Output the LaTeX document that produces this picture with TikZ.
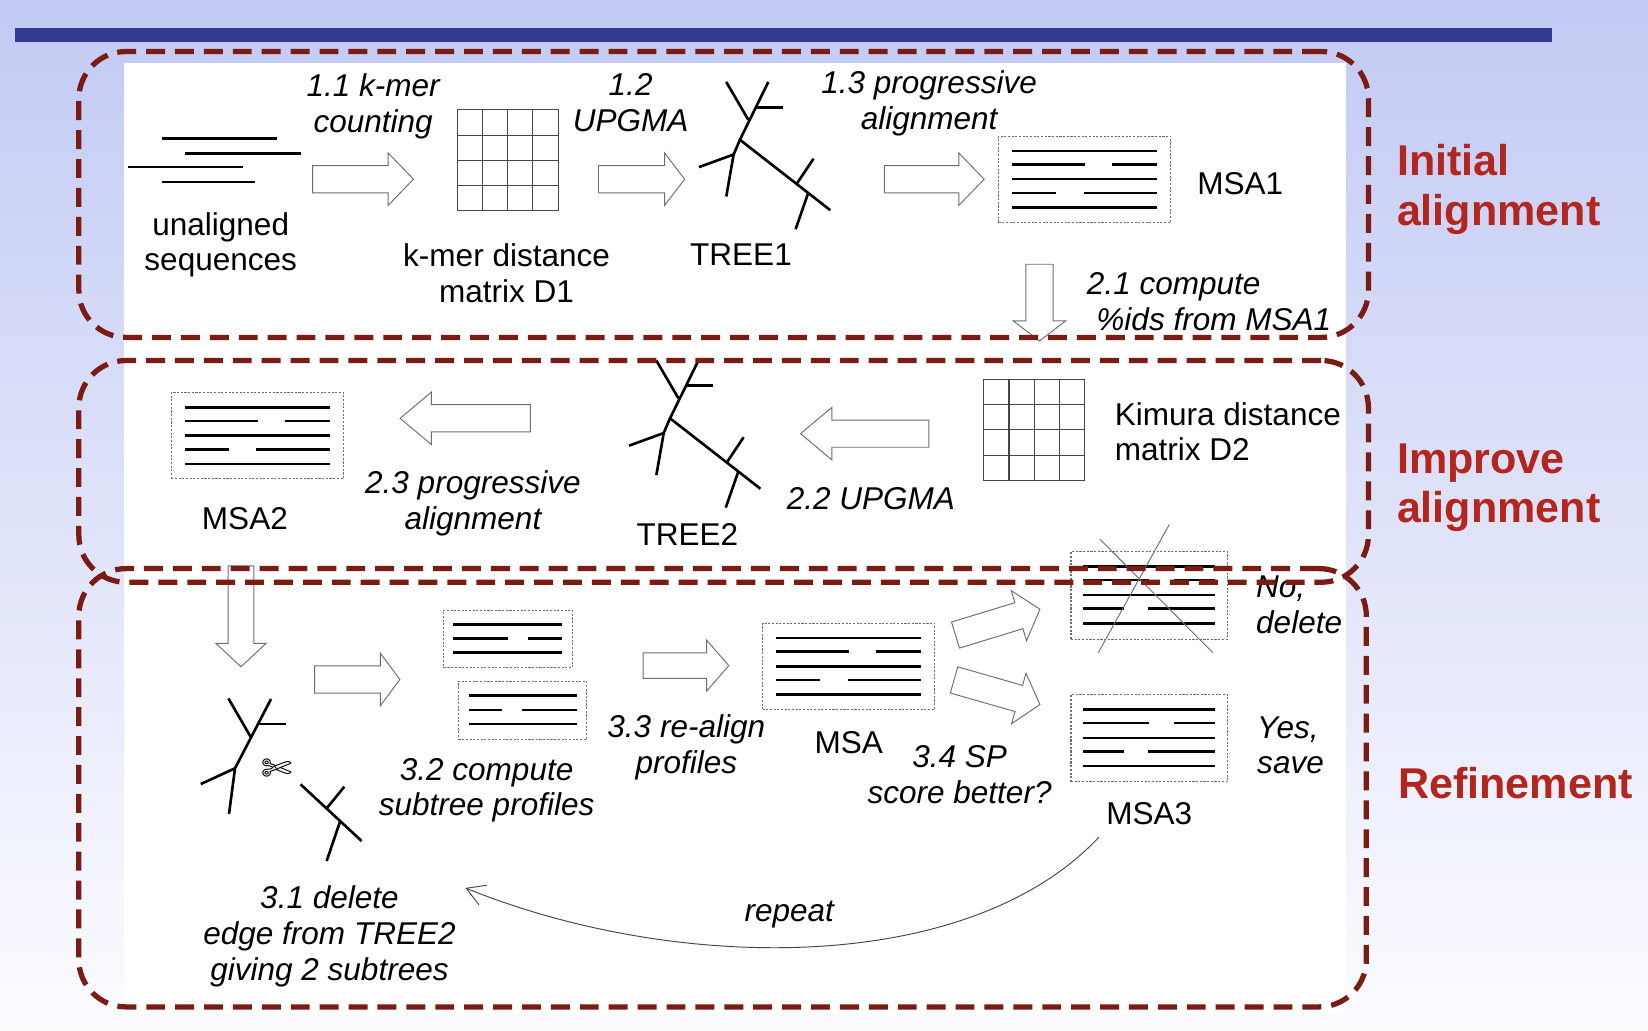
\documentclass[tikz,border=0pt]{standalone}
\usepackage{fontspec}
\setmainfont{Liberation Sans}
\newfontfamily\dingfont{DejaVu Sans}
\usepackage{tikz}
\usetikzlibrary{shapes.arrows, arrows.meta, positioning, calc}
\definecolor{background}{RGB}{252,252,255}
\definecolor{bgtop}{RGB}{194,202,244}
\definecolor{barblue}{RGB}{52,57,145}
\definecolor{boxred}{RGB}{122,27,20}
\definecolor{hilight}{RGB}{178,38,30}
\definecolor{gray}{RGB}{110,110,110}
\definecolor{gridgray}{RGB}{70,70,70}

% rows of an alignment inside a dotted box
\newcommand{\msarows}[2]{%
	\begin{scope}[shift={(#1.north west)}, xscale=#2]
		\draw[seqline] (13,14) -- (151,14);
		\draw[seqline] (13,27) -- (82,27) (108,27) -- (151,27);
		\draw[seqline] (13,41) -- (151,41);
		\draw[seqline] (13,54) -- (55,54) (81,54) -- (151,54);
		\draw[seqline] (13,68) -- (151,68);
	\end{scope}}
% rows of a profile
\newcommand{\profrows}[5]{%
	\begin{scope}[shift={(#1.north west)}]
		\draw[seqline] (#2,13.5) -- (#5,13.5);
		\draw[seqline] (#2,27) -- (#3,27) (#4,27) -- (#5,27);
		\draw[seqline] (#2,40.5) -- (#5,40.5);
	\end{scope}}
% distance matrix cells
\newcommand{\gridin}[1]{%
	\begin{scope}[shift={(#1.north west)}]
		\foreach \k in {24,48,72} {
			\draw[gridline] (\k,0) -- (\k,96);
			\draw[gridline] (0,\k) -- (96,\k);
		}
	\end{scope}}
% guide tree
\newcommand{\treeshape}[1]{%
	\begin{scope}[shift={#1}]
		\draw[treeline] (-13,-55) -- (8,-19);
		\draw[treeline] (27,-55) -- (0,0) -- (-6,14) -- (-13,54);
		\draw[treeline] (16,-31) -- (41,-31);
		\draw[treeline] (-6,14) -- (-39,26);
		\draw[treeline] (0,0) -- (86,67);
		\draw[treeline] (54,42) -- (70,18);
		\draw[treeline] (65,50.6) -- (53,85);
	\end{scope}}

\begin{document}
\begin{tikzpicture}[x=1pt, y=-1pt]
	% Define elements
	\tikzstyle{txt} = [inner sep=0, align=center, font=\fontsize{30}{34}\selectfont]
	\tikzstyle{itxt} = [txt, font=\fontsize{30}{34}\selectfont\itshape]
	\tikzstyle{zonelbl} = [inner sep=0, align=left, anchor=north west, text=hilight, font=\fontsize{41}{47}\selectfont\bfseries]
	\tikzstyle{zone} = [draw=boxred, line width=5pt, dash pattern=on 18pt off 9.5pt, rounded corners=45pt, minimum width=1227pt]
	\tikzstyle{harrow} = [single arrow, draw=gray, fill=white, line width=0.9pt, inner sep=0, inner ysep=12.5pt, single arrow head extend=12pt, anchor=tip]
	\tikzstyle{msabox} = [draw=gray, dash pattern=on 2pt off 1.5pt, line width=1pt, minimum width=164pt, minimum height=82pt, inner sep=0, outer sep=0]
	\tikzstyle{profbox} = [msabox, minimum width=122pt, minimum height=55pt]
	\tikzstyle{matbox} = [draw=gridgray, line width=1pt, minimum size=96pt, inner sep=0, outer sep=0]
	\tikzstyle{seqline} = [line width=2.4pt]
	\tikzstyle{treeline} = [line width=2.5pt]
	\tikzstyle{gridline} = [draw=gridgray, line width=1pt]
	\tikzstyle{crossline} = [draw=gray, line width=0.9pt]
	\tikzstyle{line} = [draw=gridgray, line width=0.9pt, -{Straight Barb[length=17pt, width=20pt]}]

	%% Background
	\useasboundingbox (0,0) rectangle (1568,980);
	\shade[top color=bgtop, bottom color=background] (0,0) rectangle (1568,980);
	\fill[barblue] (14,27) rectangle (1477,40);
	\fill[white] (118,60) rectangle (1281,965);

	%% Initial alignment
	\draw[seqline] (154,132) -- (264,132) (176,146) -- (286,146) (122,159) -- (231,159) (154,173) -- (243,173);
	\node[txt] (seq) at (210,233) {unaligned\\sequences};
	\node[itxt] (kmer) at (355,101) {1.1 k-mer\\counting};
	\node[harrow, minimum height=96pt, single arrow tip angle=92] (kmerarr) at (394,170.5) {};
	\node[matbox] (dmone) at (483,152.5) {};
	\gridin{dmone}
	\node[txt] (dmonelbl) at (482,260) {k-mer distance\\matrix D1};
	\node[itxt] (upgma) at (600,98) {1.2\\UPGMA};
	\node[harrow, minimum height=82pt, single arrow tip angle=105] (upgmaarr) at (652,170.5) {};
	\treeshape{(704,133)}
	\node[txt] (treeone) at (705,242) {TREE1};
	\node[itxt] (prog) at (884,98) {1.3 progressive\\alignment};
	\node[harrow, minimum height=95pt, single arrow tip angle=92] (progarr) at (937,170.5) {};
	\node[msabox] (msaone) at (1032,170.5) {};
	\msarows{msaone}{1}
	\node[txt] (msaonelbl) at (1180,174.5) {MSA1};
	\node[harrow, minimum height=73pt, single arrow tip angle=105, rotate=-90] (idsarr) at (989,325) {};
	\node[itxt, align=left, anchor=west] (ids) at (1034,287) {2.1 compute\\\hspace*{9pt}\%ids from MSA1};

	%% Improve alignment
	\node[msabox] (msatwo) at (245,414.5) {};
	\msarows{msatwo}{1}
	\node[txt] (msatwolbl) at (233,493.5) {MSA2};
	\node[harrow, minimum height=124pt, single arrow tip angle=80, rotate=180] (progtwoarr) at (380,398) {};
	\node[itxt] (progtwo) at (450,479) {2.3 progressive\\alignment};
	\treeshape{(637.5,398)}
	\node[txt] (treetwo) at (654,509) {TREE2};
	\node[harrow, minimum height=122pt, single arrow tip angle=80, rotate=180] (upgmatwoarr) at (761,412.6) {};
	\node[itxt] (upgmatwo) at (828.6,474) {2.2 UPGMA};
	\node[matbox] (dmtwo) at (984,409) {};
	\gridin{dmtwo}
	\node[txt, align=left, anchor=west] (dmtwolbl) at (1060.5,410.7) {Kimura distance\\matrix D2};

	%% Refinement
	\node[harrow, minimum height=96pt, single arrow tip angle=94, inner ysep=11.75pt, single arrow head extend=11.75pt, rotate=-90] (cutarr) at (229.3,635) {};
	\draw[treeline] (217.3,664.5) -- (238.8,701.6);
	\draw[treeline] (257.9,665) -- (223.6,731) -- (217.9,774.5);
	\draw[treeline] (245.8,688.9) -- (271.8,688.9);
	\draw[treeline] (223.6,731) -- (191,746);
	\draw[treeline] (286,746.3) -- (344.1,800.2);
	\draw[treeline] (310.8,769.1) -- (327.6,748.5);
	\draw[treeline] (323.5,781.8) -- (310.8,819.2);
	\node[inner sep=0, font=\dingfont\fontsize{35}{35}\selectfont] (cut) at (263,733) {✄};
	\node[harrow, minimum height=81pt, single arrow tip angle=107] (profarr) at (381,646.5) {};
	\node[profbox] (proftop) at (483.25,608) {};
	\profrows{proftop}{8.5}{61.5}{80}{112.5}
	\node[profbox] (profbot) at (497.25,675.8) {};
	\profrows{profbot}{10}{41.5}{60.5}{112.5}
	\node[itxt] (subtree) at (463,752) {3.2 compute\\subtree profiles};
	\node[harrow, minimum height=81.5pt, single arrow tip angle=98, inner ysep=11.75pt] (realignarr) at (694,633.3) {};
	\node[itxt] (realign) at (653,711) {3.3 re-align\\profiles};
	\node[msabox] (msa) at (807.5,634) {};
	\msarows{msa}{1}
	\node[txt, below=21pt of msa] (msalbl) {MSA};
	\node[harrow, minimum height=84pt, single arrow tip angle=100, rotate=17] (noarr) at (990,579.5) {};
	\node[harrow, minimum height=85pt, single arrow tip angle=100, rotate=-16] (yesarr) at (990,670.5) {};
	\node[itxt] (sp) at (913,737) {3.4 SP\\score better?};
	\node[msabox, minimum width=149pt, minimum height=83pt] (msadel) at (1093.5,566.5) {};
	\msarows{msadel}{0.9085}
	\draw[crossline] (1046.5,513) -- (1154,621) (1112.5,499) -- (1045,621);
	\node[itxt, align=left, anchor=west] (no) at (1195,575.5) {No,\\delete};
	\node[msabox, minimum width=149pt, minimum height=83pt] (msathree) at (1093.5,702.5) {};
	\msarows{msathree}{0.9085}
	\node[txt, below=19pt of msathree] (msathreelbl) {MSA3};
	\node[itxt, align=left, anchor=west] (yes) at (1196,709) {Yes,\\save};
	\node[itxt] (delete) at (313.5,891) {3.1 delete\\edge from TREE2\\giving 2 subtrees};
	\node[itxt] (rpt) at (751,870) {repeat};
	% arrows
	\path[line] ([xshift=-7pt, yshift=-12pt]msathreelbl.south west) .. controls (920,930) and (640,925) .. ([xshift=9pt, yshift=-2pt]delete.north east);

	%% Zones
	\node[zone, minimum height=272pt] (init) at (688.5,185) {};
	\node[zone, minimum height=211pt] (improve) at (688.5,448.5) {};
	\node[zone, minimum width=1225pt, minimum height=417pt] (refine) at (687.5,749.5) {};
	\node[zonelbl] (initlbl) at (1329,137.5) {Initial\\alignment};
	\node[zonelbl] (improvelbl) at (1329,422) {Improve\\alignment};
	\node[zonelbl] (refinelbl) at (1330,729.5) {Refinement};
\end{tikzpicture}
\end{document}
